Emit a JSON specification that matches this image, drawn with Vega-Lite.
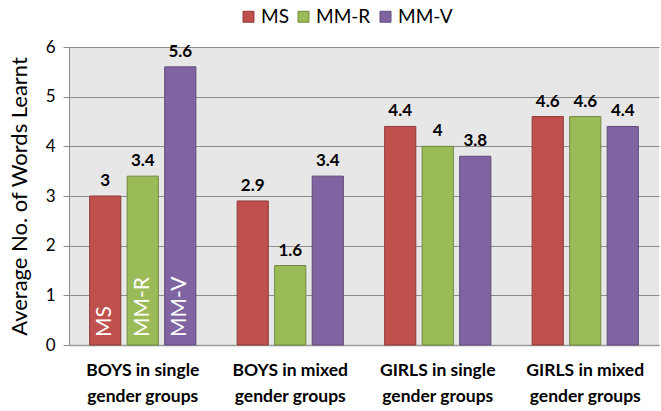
{
  "$schema": "https://vega.github.io/schema/vega-lite/v6.json",
  "width": 590,
  "height": 298,
  "autosize": {"type": "none"},
  "padding": {"left": 69, "top": 47, "right": 2, "bottom": 66},
  "background": "white",
  "config": {
    "font": "Lato",
    "view": {"fill": "#E7E7E7", "stroke": null},
    "axis": {"labelFont": "Lato", "titleFont": "Lato"}
  },
  "data": {
    "values": [
      {"group": "BOYS in single\ngender groups", "series": "MS", "value": 3},
      {"group": "BOYS in single\ngender groups", "series": "MM-R", "value": 3.4},
      {"group": "BOYS in single\ngender groups", "series": "MM-V", "value": 5.6},
      {"group": "BOYS in mixed\ngender groups", "series": "MS", "value": 2.9},
      {"group": "BOYS in mixed\ngender groups", "series": "MM-R", "value": 1.6},
      {"group": "BOYS in mixed\ngender groups", "series": "MM-V", "value": 3.4},
      {"group": "GIRLS in single\ngender groups", "series": "MS", "value": 4.4},
      {"group": "GIRLS in single\ngender groups", "series": "MM-R", "value": 4},
      {"group": "GIRLS in single\ngender groups", "series": "MM-V", "value": 3.8},
      {"group": "GIRLS in mixed\ngender groups", "series": "MS", "value": 4.6},
      {"group": "GIRLS in mixed\ngender groups", "series": "MM-R", "value": 4.6},
      {"group": "GIRLS in mixed\ngender groups", "series": "MM-V", "value": 4.4}
    ]
  },
  "encoding": {
    "x": {
      "field": "group", "type": "nominal", "sort": null,
      "scale": {"paddingInner": 0.28, "paddingOuter": 0.14},
      "axis": {
        "title": null, "labelAngle": 0, "labelFontWeight": "bold", "labelFontSize": 17.5,
        "labelColor": "#000000", "labelLineHeight": 26, "labelPadding": 16,
        "labelExpr": "split(datum.label, '\\n')", "labelOverlap": false, "labelBound": false,
        "ticks": false, "domainColor": "#999999", "domainWidth": 1.5, "grid": false
      }
    },
    "xOffset": {
      "field": "series", "type": "nominal", "sort": ["MS", "MM-R", "MM-V"],
      "scale": {"paddingInner": 0.17, "paddingOuter": 0}
    },
    "y": {
      "field": "value", "type": "quantitative",
      "scale": {"domain": [0, 6], "nice": false},
      "axis": {
        "title": "Average No. of Words Learnt", "titleFontSize": 22, "titleFontWeight": "normal",
        "titleColor": "#000000", "titlePadding": 14,
        "values": [0, 1, 2, 3, 4, 5, 6], "labelOverlap": false,
        "labelFontSize": 17, "labelColor": "#000000", "labelPadding": 8,
        "grid": true, "gridColor": "#8C8C8C", "gridWidth": 1,
        "domainColor": "#8C8C8C", "tickColor": "#8C8C8C", "tickSize": 6
      }
    }
  },
  "layer": [
    {
      "mark": {"type": "bar", "strokeWidth": 1},
      "encoding": {
        "color": {
          "field": "series", "type": "nominal", "sort": ["MS", "MM-R", "MM-V"],
          "scale": {"domain": ["MS", "MM-R", "MM-V"], "range": ["#C0504D", "#9BBB59", "#8064A2"]},
          "legend": {
            "title": null, "orient": "none", "direction": "horizontal",
            "legendX": 170, "legendY": -40,
            "symbolType": "square", "symbolSize": 120, "symbolStrokeWidth": 1,
            "labelFontSize": 19, "labelColor": "#000000", "labelFont": "Lato",
            "columnPadding": 5, "labelOffset": 3
          }
        },
        "stroke": {
          "field": "series", "type": "nominal",
          "scale": {"domain": ["MS", "MM-R", "MM-V"], "range": ["#8E3B39", "#71893F", "#5E4A78"]},
          "legend": null
        }
      }
    },
    {
      "mark": {"type": "text", "baseline": "bottom", "dy": -6, "fontWeight": "bold", "fontSize": 17, "font": "Lato", "color": "#000000"},
      "encoding": {"text": {"field": "value", "type": "quantitative"}}
    },
    {
      "transform": [{"filter": "datum.group === 'BOYS in single\\ngender groups'"}],
      "mark": {"type": "text", "angle": 270, "align": "left", "baseline": "middle", "dx": 8, "fontSize": 21, "font": "Lato", "color": "#FFFFFF"},
      "encoding": {
        "y": {"datum": 0},
        "text": {"field": "series", "type": "nominal"}
      }
    }
  ]
}
